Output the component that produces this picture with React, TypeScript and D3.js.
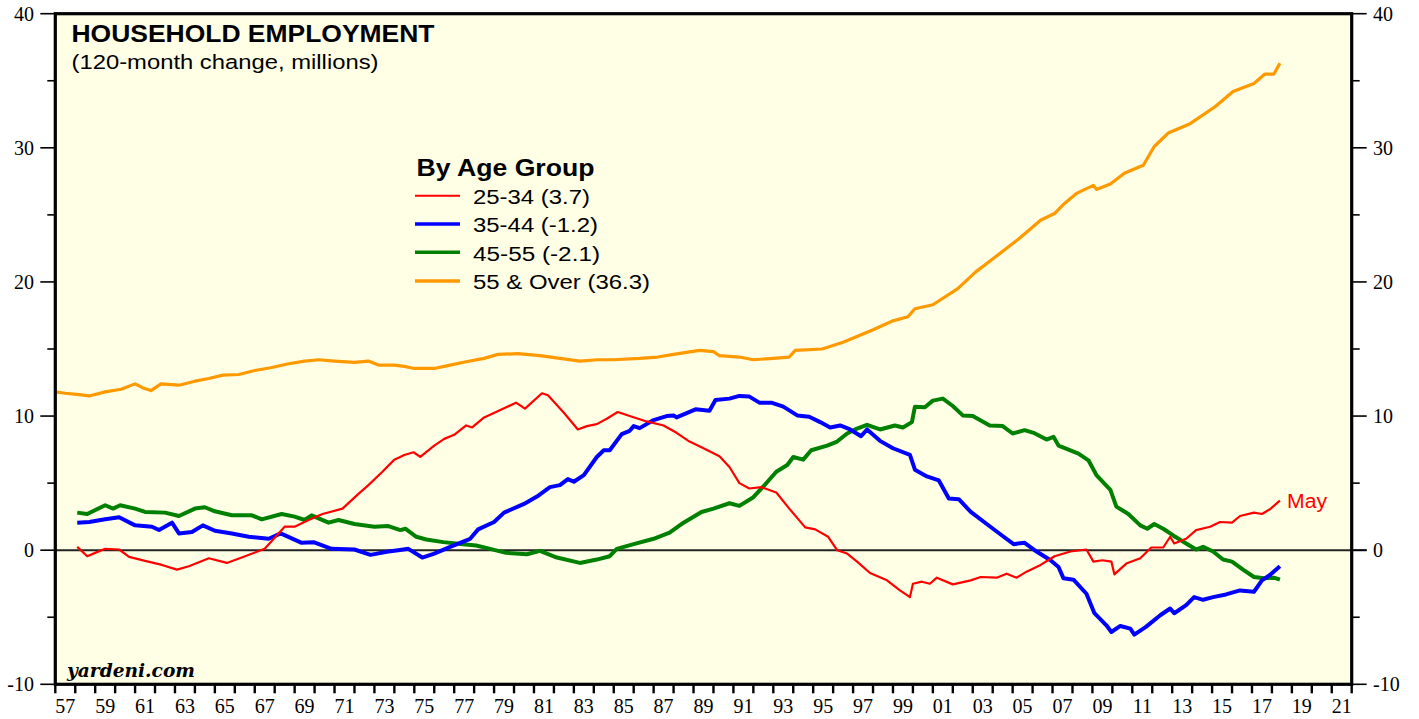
import React from "react";
import * as d3 from "d3";

// ---------- data (year, millions) ----------
const over55: [number, number][] = [
  [1957.0, 11.8], [1957.5, 11.7], [1958.2, 11.6], [1958.7, 11.5], [1959.5, 11.8], [1960.3, 12.0],
  [1961.0, 12.4], [1961.4, 12.1], [1961.8, 11.9], [1962.3, 12.4], [1963.2, 12.3], [1964.0, 12.6],
  [1964.7, 12.8], [1965.4, 13.05], [1966.2, 13.1], [1967.0, 13.4], [1967.8, 13.6], [1968.7, 13.9],
  [1969.5, 14.1], [1970.2, 14.2], [1971.0, 14.1], [1972.0, 14.0], [1972.7, 14.1], [1973.2, 13.8],
  [1974.0, 13.8], [1974.5, 13.7], [1975.0, 13.55], [1976.0, 13.55], [1976.8, 13.8], [1977.6, 14.05],
  [1978.5, 14.3], [1979.2, 14.6], [1980.2, 14.65], [1981.3, 14.5], [1982.3, 14.3], [1983.3, 14.1],
  [1984.2, 14.2], [1985.0, 14.2], [1986.3, 14.3], [1987.2, 14.4], [1988.0, 14.6], [1989.3, 14.9],
  [1990.0, 14.8], [1990.3, 14.5], [1991.3, 14.4], [1992.0, 14.2], [1993.0, 14.3], [1993.8, 14.4],
  [1994.1, 14.9], [1995.45, 15.0], [1996.5, 15.5], [1997.95, 16.4], [1999.0, 17.1], [1999.75, 17.4],
  [2000.1, 18.0], [2001.0, 18.3], [2002.25, 19.5], [2003.15, 20.75], [2003.9, 21.6], [2005.3, 23.2],
  [2006.4, 24.6], [2007.1, 25.1], [2007.6, 25.85], [2008.2, 26.6], [2009.05, 27.2], [2009.2, 26.9],
  [2009.9, 27.3], [2010.6, 28.1], [2011.55, 28.7], [2012.1, 30.1], [2012.8, 31.1], [2013.9, 31.8],
  [2015.15, 33.06], [2016.05, 34.2], [2017.1, 34.8], [2017.65, 35.5], [2018.1, 35.5], [2018.4, 36.3],
];

const age25to34: [number, number][] = [
  [1958.1, 0.25], [1958.6, -0.45], [1959.0, -0.2], [1959.5, 0.1], [1960.2, 0.05], [1960.7, -0.5],
  [1961.5, -0.8], [1962.35, -1.1], [1963.1, -1.45], [1963.7, -1.2], [1964.7, -0.6], [1965.6, -0.95],
  [1966.35, -0.55], [1967.5, 0.1], [1968.5, 1.75], [1969.0, 1.75], [1969.7, 2.25], [1970.4, 2.7],
  [1971.4, 3.1], [1972.2, 4.2], [1972.7, 4.85], [1973.4, 5.85], [1974.0, 6.75], [1974.5, 7.1],
  [1974.96, 7.3], [1975.3, 6.95], [1976.0, 7.8], [1976.5, 8.3], [1977.0, 8.6], [1977.6, 9.3],
  [1977.9, 9.15], [1978.5, 9.9], [1979.1, 10.3], [1980.1, 11.0], [1980.55, 10.55], [1981.4, 11.7],
  [1981.7, 11.55], [1982.5, 10.25], [1983.2, 9.0], [1983.65, 9.25], [1984.15, 9.4], [1984.65, 9.8],
  [1985.2, 10.3], [1985.8, 10.0], [1986.65, 9.6], [1987.5, 9.3], [1988.15, 8.75], [1988.8, 8.1],
  [1989.5, 7.6], [1990.3, 7.0], [1990.8, 6.2], [1991.3, 5.0], [1991.8, 4.6], [1992.4, 4.7],
  [1993.15, 4.3], [1993.8, 3.1], [1994.6, 1.7], [1995.1, 1.55], [1995.75, 1.0], [1996.2, 0.0],
  [1996.7, -0.25], [1997.2, -0.85], [1997.85, -1.7], [1998.7, -2.25], [1999.35, -3.0], [1999.85, -3.5],
  [2000.0, -2.5], [2000.45, -2.35], [2000.85, -2.5], [2001.2, -2.05], [2002.0, -2.55], [2002.9, -2.25],
  [2003.4, -2.0], [2004.2, -2.05], [2004.7, -1.75], [2005.2, -2.05], [2005.7, -1.6], [2006.4, -1.1],
  [2007.1, -0.45], [2007.9, -0.1], [2008.7, 0.05], [2009.05, -0.85], [2009.5, -0.75], [2009.95, -0.85],
  [2010.1, -1.8], [2010.7, -1.0], [2011.4, -0.6], [2011.95, 0.2], [2012.55, 0.2], [2012.9, 1.0],
  [2013.1, 0.5], [2013.7, 0.85], [2014.2, 1.5], [2014.9, 1.75], [2015.4, 2.1], [2016.0, 2.05],
  [2016.4, 2.55], [2017.1, 2.8], [2017.5, 2.7], [2017.9, 3.05], [2018.4, 3.7],
];

const age35to44: [number, number][] = [
  [1958.1, 2.05], [1958.7, 2.1], [1959.5, 2.3], [1960.2, 2.45], [1961.0, 1.85], [1961.85, 1.75],
  [1962.2, 1.5], [1962.85, 2.05], [1963.2, 1.25], [1963.85, 1.35], [1964.4, 1.85], [1965.0, 1.45],
  [1965.85, 1.25], [1966.7, 1.0], [1967.7, 0.85], [1968.3, 1.25], [1969.35, 0.55], [1969.95, 0.6],
  [1970.85, 0.1], [1972.0, 0.05], [1972.8, -0.35], [1973.7, -0.1], [1974.2, 0.0], [1974.7, 0.1],
  [1975.4, -0.55], [1976.0, -0.25], [1976.8, 0.25], [1977.8, 0.85], [1978.2, 1.55], [1979.0, 2.1],
  [1979.5, 2.8], [1980.5, 3.45], [1981.15, 4.0], [1981.8, 4.7], [1982.3, 4.85], [1982.7, 5.3],
  [1983.0, 5.1], [1983.5, 5.6], [1984.15, 6.95], [1984.5, 7.45], [1984.8, 7.45], [1985.4, 8.65],
  [1985.8, 8.9], [1986.0, 9.25], [1986.3, 9.1], [1987.0, 9.7], [1987.65, 10.0], [1988.0, 10.05],
  [1988.15, 9.9], [1989.1, 10.5], [1989.8, 10.4], [1990.1, 11.2], [1990.8, 11.3], [1991.3, 11.5],
  [1991.8, 11.45], [1992.3, 11.0], [1992.9, 11.0], [1993.5, 10.7], [1994.2, 10.05], [1994.8, 9.95],
  [1995.35, 9.55], [1995.85, 9.15], [1996.35, 9.3], [1996.85, 9.0], [1997.4, 8.5], [1997.7, 9.0],
  [1998.35, 8.15], [1999.0, 7.6], [1999.85, 7.1], [2000.1, 6.0], [2000.7, 5.5], [2001.3, 5.2],
  [2001.8, 3.85], [2002.3, 3.8], [2002.9, 2.85], [2003.7, 1.95], [2004.55, 1.0], [2005.05, 0.45],
  [2005.6, 0.55], [2006.2, -0.1], [2006.9, -0.75], [2007.3, -1.25], [2007.55, -2.1], [2008.05, -2.2],
  [2008.7, -3.25], [2009.1, -4.7], [2009.7, -5.6], [2009.95, -6.1], [2010.4, -5.65], [2010.9, -5.85],
  [2011.1, -6.3], [2011.7, -5.7], [2012.4, -4.85], [2012.9, -4.35], [2013.1, -4.7], [2013.7, -4.1],
  [2014.1, -3.5], [2014.55, -3.7], [2015.05, -3.5], [2015.7, -3.3], [2016.4, -3.0], [2017.1, -3.1],
  [2017.5, -2.25], [2017.9, -1.85], [2018.4, -1.2],
];

const age45to55: [number, number][] = [
  [1958.1, 2.8], [1958.6, 2.7], [1959.5, 3.35], [1959.9, 3.1], [1960.25, 3.35], [1961.0, 3.1],
  [1961.5, 2.85], [1962.5, 2.8], [1963.2, 2.55], [1964.0, 3.1], [1964.5, 3.2], [1965.0, 2.9],
  [1965.85, 2.6], [1966.85, 2.6], [1967.35, 2.3], [1968.35, 2.7], [1969.0, 2.5], [1969.5, 2.25],
  [1969.85, 2.6], [1970.7, 2.05], [1971.2, 2.25], [1972.0, 1.95], [1973.0, 1.75], [1973.7, 1.8],
  [1974.3, 1.5], [1974.55, 1.6], [1975.1, 1.0], [1975.6, 0.8], [1976.45, 0.6], [1977.45, 0.45],
  [1978.1, 0.35], [1978.8, 0.1], [1979.6, -0.2], [1980.65, -0.3], [1981.3, -0.05], [1982.15, -0.55],
  [1983.3, -0.95], [1984.15, -0.7], [1984.8, -0.45], [1985.15, 0.1], [1986.0, 0.45], [1987.0, 0.85],
  [1987.8, 1.3], [1988.5, 2.05], [1989.4, 2.85], [1990.0, 3.1], [1990.8, 3.5], [1991.3, 3.3],
  [1992.0, 3.95], [1992.5, 4.75], [1993.15, 5.85], [1993.7, 6.35], [1994.0, 6.95], [1994.5, 6.75],
  [1994.9, 7.45], [1995.7, 7.8], [1996.2, 8.1], [1996.7, 8.7], [1997.1, 9.0], [1997.7, 9.35],
  [1998.35, 9.0], [1999.1, 9.3], [1999.5, 9.15], [1999.95, 9.55], [2000.1, 10.7], [2000.6, 10.65],
  [2001.0, 11.15], [2001.5, 11.3], [2002.0, 10.75], [2002.5, 10.05], [2003.0, 10.0], [2003.85, 9.3],
  [2004.5, 9.25], [2005.0, 8.7], [2005.6, 8.95], [2006.05, 8.75], [2006.7, 8.25], [2007.05, 8.45],
  [2007.3, 7.8], [2007.8, 7.5], [2008.3, 7.2], [2008.8, 6.7], [2009.2, 5.6], [2009.9, 4.5],
  [2010.2, 3.25], [2010.8, 2.7], [2011.4, 1.85], [2011.75, 1.6], [2012.1, 1.95], [2012.55, 1.6],
  [2013.05, 1.1], [2013.7, 0.5], [2014.2, 0.05], [2014.55, 0.25], [2015.05, -0.1], [2015.55, -0.7],
  [2016.0, -0.85], [2016.55, -1.45], [2017.1, -2.0], [2017.6, -2.1], [2018.1, -2.05], [2018.4, -2.2],
];

const seriesNames = ["25-34 (3.7)", "35-44 (-1.2)", "45-55 (-2.1)", "55 & Over (36.3)"];
const seriesColors = ["#ff0000", "#0000ff", "#008000", "#ff9900"];

const yMajorTicks = [-10, 0, 10, 20, 30, 40];
const yMinorTicks = [-5, 5, 15, 25, 35];
const xTickYears = d3.range(1957, 2023);
const xLabelYears = [1957, 1959, 1961, 1963, 1965, 1967, 1969, 1971, 1973, 1975, 1977, 1979, 1981, 1983,
  1985, 1987, 1989, 1991, 1993, 1995, 1997, 1999, 2001, 2003, 2005, 2007, 2009, 2011, 2013, 2015,
  2017, 2019, 2021];
const xLabels = ["57", "59", "61", "63", "65", "67", "69", "71", "73", "75", "77", "79", "81", "83",
  "85", "87", "89", "91", "93", "95", "97", "99", "01", "03", "05", "07", "09", "11", "13", "15",
  "17", "19", "21"];

// ---------- layout ----------
const W = 1419;
const H = 719;
const L = 55.3, R = 1351.7, T = 13.7, B = 684.3;

const x = d3.scaleLinear().domain([1957, 2022]).range([L, R]);
const y = d3.scaleLinear().domain([-10, 40]).range([B, T]);

const line = d3.line<[number, number]>().x((d) => x(d[0])).y((d) => y(d[1]));

const SANS = "'Liberation Sans', Arial, Helvetica, sans-serif";
const SERIF = "'Liberation Serif', 'Times New Roman', Times, serif";
const serifStyle = { fontFamily: SERIF, fontSize: "20px" };

export default function App() {
  const legendRows = [195.7, 224, 252.3, 281];
  const legendWidths = [117, 125, 127, 177];
  const legendStroke = [2, 3.4, 3.4, 3.4];
  return (
    <svg width={W} height={H} style={{ position: "absolute", left: 0, top: 0, background: "#fff" }}>
      <rect x={L} y={T} width={R - L} height={B - T} fill="#ffffe6" />

      {/* zero line */}
      <line x1={L} x2={R + 15} y1={y(0)} y2={y(0)} stroke="#222" strokeWidth={2} />

      {/* series */}
      <path d={line(over55) || ""} fill="none" stroke={seriesColors[3]} strokeWidth={3.2} strokeLinejoin="round" />
      <path d={line(age45to55) || ""} fill="none" stroke={seriesColors[2]} strokeWidth={4} strokeLinejoin="round" />
      <path d={line(age35to44) || ""} fill="none" stroke={seriesColors[1]} strokeWidth={4} strokeLinejoin="round" />
      <path d={line(age25to34) || ""} fill="none" stroke={seriesColors[0]} strokeWidth={2.2} strokeLinejoin="round" />

      {/* frame */}
      <rect x={L} y={T} width={R - L} height={B - T} fill="none" stroke="#000" strokeWidth={3.2} />

      {/* y ticks + labels, left and right */}
      {yMajorTicks.map((t) => (
        <g key={"ym" + t}>
          <line x1={L - 15} x2={L} y1={y(t)} y2={y(t)} stroke="#000" strokeWidth={1.6} />
          <line x1={R} x2={R + 15} y1={y(t)} y2={y(t)} stroke="#000" strokeWidth={1.6} />
          <text x={34} y={y(t) + 6.8} textAnchor="end" style={serifStyle} fill="#000">{t}</text>
          <text x={1373} y={y(t) + 6.8} textAnchor="start" style={serifStyle} fill="#000">{t}</text>
        </g>
      ))}
      {yMinorTicks.map((t) => (
        <g key={"yn" + t}>
          <line x1={L - 8} x2={L} y1={y(t)} y2={y(t)} stroke="#000" strokeWidth={1.6} />
          <line x1={R} x2={R + 8} y1={y(t)} y2={y(t)} stroke="#000" strokeWidth={1.6} />
        </g>
      ))}

      {/* x ticks + labels */}
      {xTickYears.map((yr) => (
        <line key={"xt" + yr} x1={x(yr)} x2={x(yr)} y1={B} y2={B + 9} stroke="#000" strokeWidth={2.4} />
      ))}
      {xLabelYears.map((yr, i) => (
        <text key={"xl" + yr} x={x(yr + 0.5)} y={713} textAnchor="middle" style={serifStyle} fill="#000">
          {xLabels[i]}
        </text>
      ))}

      {/* titles */}
      <text x={71.5} y={42.3} style={{ fontFamily: SANS, fontWeight: "bold", fontSize: "24px" }} textLength={363} lengthAdjust="spacingAndGlyphs" fill="#000">
        HOUSEHOLD EMPLOYMENT
      </text>
      <text x={71.5} y={69} style={{ fontFamily: SANS, fontSize: "20.5px" }} textLength={307} lengthAdjust="spacingAndGlyphs" fill="#000">
        (120-month change, millions)
      </text>

      {/* legend */}
      <text x={416.5} y={175.5} style={{ fontFamily: SANS, fontWeight: "bold", fontSize: "24px" }} textLength={178} lengthAdjust="spacingAndGlyphs" fill="#000">
        By Age Group
      </text>
      {seriesNames.map((name, i) => (
        <g key={"lg" + i}>
          <line x1={415} x2={460} y1={legendRows[i]} y2={legendRows[i]} stroke={seriesColors[i]} strokeWidth={legendStroke[i]} />
          <text x={473} y={legendRows[i] + 8.3} style={{ fontFamily: SANS, fontSize: "20px" }} textLength={legendWidths[i]} lengthAdjust="spacingAndGlyphs" fill="#000">
            {name}
          </text>
        </g>
      ))}

      {/* May label */}
      <text x={1287} y={508} style={{ fontFamily: SANS, fontSize: "19.5px" }} textLength={40} lengthAdjust="spacingAndGlyphs" fill="#ff0000">
        May
      </text>

      {/* source */}
      <text x={67} y={677} style={{ fontFamily: "'DejaVu Serif', serif", fontStyle: "italic", fontWeight: "bold", fontSize: "19px" }} textLength={128} lengthAdjust="spacingAndGlyphs" fill="#000">
        yardeni.com
      </text>
    </svg>
  );
}
